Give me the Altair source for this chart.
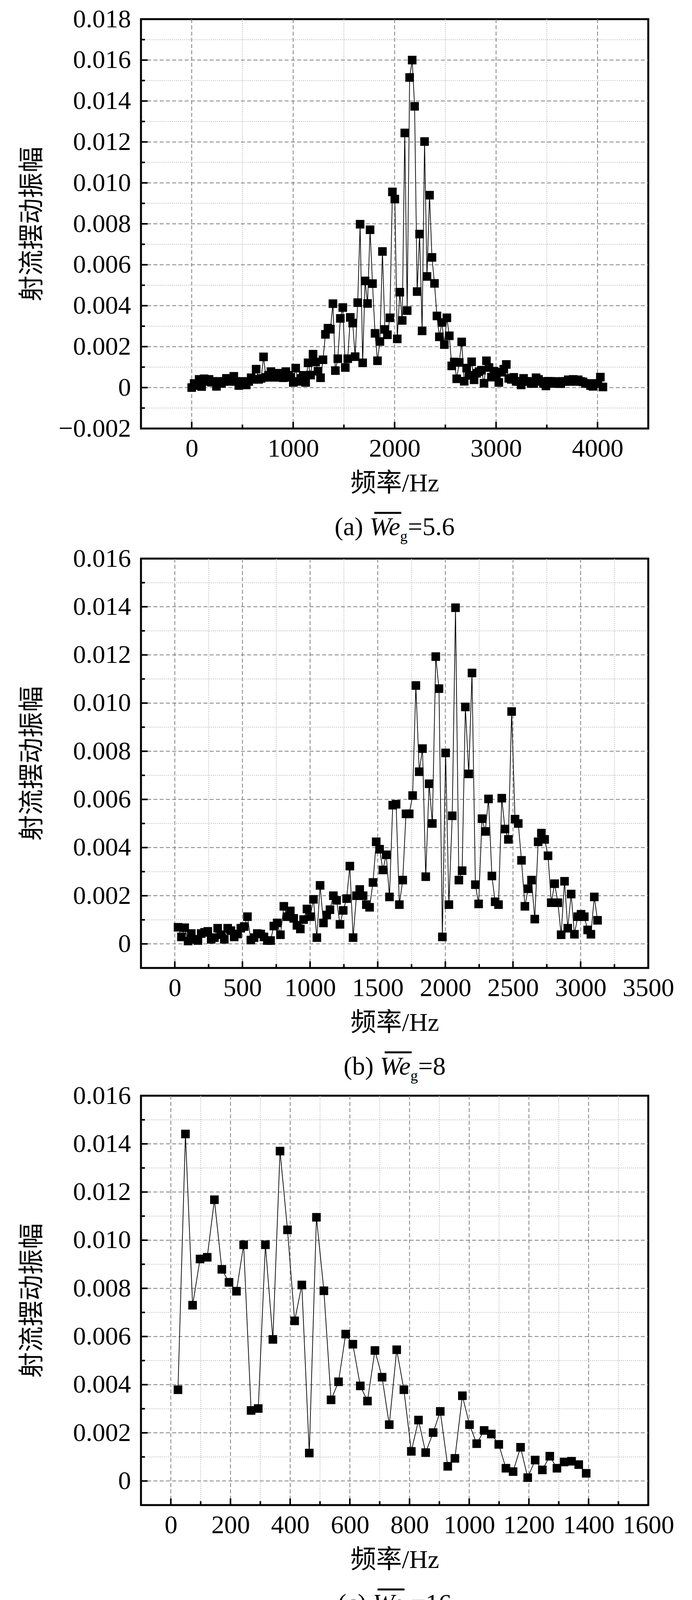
import altair as alt
import pandas as pd

FONT = "Liberation Serif, Noto Sans CJK SC, serif"
W, H = 1299, 1048
FS = 66
MAJOR_COL = "#7f7f7f"
MINOR_COL = "#b4b4b4"

# FFT frequency bins (Hz)
FREQ_BINS = [0, 24, 49, 73, 98, 122, 146, 171, 195, 220,
             244, 269, 293, 317, 342, 366, 391, 415, 439, 464,
             488, 513, 537, 562, 586, 610, 635, 659, 684, 708,
             732, 757, 781, 806, 830, 854, 879, 903, 928, 952,
             977, 1001, 1025, 1050, 1074, 1099, 1123, 1147, 1172, 1196,
             1221, 1245, 1270, 1294, 1318, 1343, 1367, 1392, 1416, 1440,
             1465, 1489, 1514, 1538, 1563, 1587, 1611, 1636, 1660, 1685,
             1709, 1733, 1758, 1782, 1807, 1831, 1855, 1880, 1904, 1929,
             1953, 1978, 2002, 2026, 2051, 2075, 2100, 2124, 2148, 2173,
             2197, 2222, 2246, 2271, 2295, 2319, 2344, 2368, 2393, 2417,
             2441, 2466, 2490, 2515, 2539, 2563, 2588, 2612, 2637, 2661,
             2686, 2710, 2734, 2759, 2783, 2808, 2832, 2856, 2881, 2905,
             2930, 2954, 2979, 3003, 3027, 3052, 3076, 3101, 3125, 3149,
             3174, 3198, 3223, 3247, 3271, 3296, 3320, 3345, 3369, 3394,
             3418, 3442, 3467, 3491, 3516, 3540, 3564, 3589, 3613, 3638,
             3662, 3687, 3711, 3735, 3760, 3784, 3809, 3833, 3857, 3882,
             3906, 3931, 3955, 3980, 4004, 4028, 4053]

# We_g = 5.6 (bins 0..166)
AMP_A = [0.0, 0.0002, 0.0001, 0.0004, 0.00005, 0.00043, 0.0003, 0.0004, 0.00026, 0.0003,
         0.00006, 0.0003, 0.0002, 0.0003, 0.00045, 0.0003, 0.0004, 0.00055, 0.0003, 0.0001,
         0.0003, 0.0002, 0.00013, 0.0003, 0.00048, 0.0004, 0.0009, 0.0004, 0.00045, 0.0015,
         0.0005, 0.0006, 0.00078, 0.0005, 0.00061, 0.0007, 0.0005, 0.00048, 0.00078, 0.0006,
         0.0005, 0.00025, 0.00095, 0.0003, 0.00045, 0.0006, 0.00025, 0.00121, 0.00061, 0.00163,
         0.00125, 0.0008, 0.00048, 0.00136, 0.0026, 0.0029, 0.00285, 0.0041, 0.00083, 0.00141,
         0.00338, 0.00391, 0.00098, 0.00141, 0.00343, 0.00315, 0.00151, 0.00415, 0.00798, 0.00121,
         0.00521, 0.00411, 0.00771, 0.00508, 0.00265, 0.00131, 0.00225, 0.00665, 0.00284, 0.00258,
         0.00341, 0.00956, 0.00921, 0.00238, 0.00466, 0.00328, 0.01244, 0.00376, 0.01515, 0.0160,
         0.01374, 0.00469, 0.0075, 0.00277, 0.01202, 0.00543, 0.0094, 0.00636, 0.00509, 0.0035,
         0.00248, 0.00318, 0.0021, 0.00341, 0.00253, 0.00106, 0.00125, 0.00043, 0.00123, 0.00223,
         0.00031, 0.00095, 0.0006, 0.00126, 0.00038, 0.0007, 0.00078, 0.00085, 0.00021, 0.00131,
         0.00098, 0.00051, 0.0008, 0.0006, 0.00025, 0.00075, 0.0009, 0.00113, 0.00045, 0.0004,
         0.0005, 0.0003, 0.0003, 0.00013, 0.00045, 0.0003, 0.0003, 0.0002, 0.0002, 0.00048,
         0.0004, 0.0003, 0.0002, 0.00008, 0.00031, 0.0003, 0.0002, 0.0003, 0.0002, 0.00019,
         0.0003, 0.0003, 0.00038, 0.0003, 0.0004, 0.0003, 0.00038, 0.0003, 0.00028, 0.0002,
         0.0002, 0.0001, 0.00006, 0.0002, 0.0002, 0.00051, 0.00003]

# We_g = 8 (bins 1..128)
AMP_B = [0.00069, 0.00029, 0.00067, 0.00012, 0.00043, 0.00019, 0.00014, 0.00043, 0.00048, 0.00052,
         0.00019, 0.00026, 0.00065, 0.00038, 0.00019, 0.00065, 0.00055, 0.00029, 0.00041, 0.00065,
         0.00072, 0.00113, 0.00016, 0.00026, 0.00043, 0.00041, 0.00029, 0.00014, 0.00014, 0.00074,
         0.00087, 0.00038, 0.00156, 0.00113, 0.00137, 0.00106, 0.00077, 0.00062, 0.00101, 0.00145,
         0.00113, 0.00185, 0.00026, 0.00243, 0.00087, 0.0012, 0.00142, 0.002, 0.00181, 0.00081,
         0.00139, 0.00188, 0.00323, 0.00026, 0.002, 0.00226, 0.002, 0.00163, 0.00152, 0.00255,
         0.00424, 0.00393, 0.00307, 0.0037, 0.00195, 0.00576, 0.0058, 0.00163, 0.00265, 0.0054,
         0.0054, 0.00616, 0.01073, 0.00715, 0.00811, 0.00279, 0.00665, 0.005, 0.01193, 0.0106,
         0.00029, 0.00793, 0.00163, 0.00532, 0.01396, 0.00265, 0.00304, 0.00984, 0.00706, 0.01125,
         0.00246, 0.00166, 0.0052, 0.00467, 0.00602, 0.00282, 0.00175, 0.00163, 0.00605, 0.00477,
         0.00434, 0.00965, 0.00518, 0.005, 0.00347, 0.00156, 0.00229, 0.00265, 0.00103, 0.00424,
         0.0046, 0.00434, 0.00366, 0.00171, 0.0025, 0.00171, 0.00038, 0.0026, 0.00065, 0.00207,
         0.0004, 0.00113, 0.00123, 0.00113, 0.00058, 0.0004, 0.00195, 0.00098]

# We_g = 16 (bins 1..57)
AMP_C = [0.00379, 0.01441, 0.0073, 0.00922, 0.00929, 0.01168, 0.00879, 0.00825, 0.00788, 0.00981,
         0.00293, 0.00301, 0.00981, 0.00588, 0.0137, 0.01043, 0.00665, 0.00814, 0.00116, 0.01095,
         0.0079, 0.00337, 0.00412, 0.0061, 0.00568, 0.00395, 0.00332, 0.00542, 0.00431, 0.00234,
         0.00545, 0.00379, 0.00123, 0.00253, 0.00118, 0.00201, 0.00289, 0.00061, 0.00094, 0.00354,
         0.00234, 0.00155, 0.0021, 0.00195, 0.00152, 0.00053, 0.00039, 0.0014, 0.00014, 0.00087,
         0.00046, 0.00103, 0.00053, 0.00079, 0.00082, 0.00068, 0.00032]

# We_g = 40 (bins 1..108)
AMP_D = [0.00155, 0.00042, 0.00134, 0.00052, 0.00213, 0.00087, 0.00087, 0.00275, 0.0016, 0.0001,
         0.00215, 0.00275, 0.00125, 0.00153, 0.00163, 0.00211, 0.00594, 0.00161, 0.00349, 0.0046,
         0.00266, 0.00259, 0.001, 0.0031, 0.00282, 0.00619, 0.004, 0.00218, 0.00831, 0.00645,
         0.00423, 0.00723, 0.00346, 0.00415, 0.00253, 0.00789, 0.00349, 0.00102, 0.00847, 0.00457,
         0.00527, 0.00402, 0.00626, 0.00415, 0.01013, 0.00534, 0.00304, 0.0123, 0.0046, 0.00479,
         0.00594, 0.00153, 0.00902, 0.0076, 0.00326, 0.00789, 0.00307, 0.00553, 0.00496, 0.00734,
         0.00121, 0.00393, 0.0069, 0.00683, 0.00525, 0.00492, 0.01051, 0.00517, 0.00381, 0.0014,
         0.00466, 0.00894, 0.00346, 0.00045, 0.00457, 0.00074, 0.00102, 0.00304, 0.00361, 0.00218,
         0.00132, 0.00155, 0.00295, 0.00275, 0.00008, 0.00074, 0.00185, 0.00121, 0.0014, 0.00077,
         0.00138, 0.00096, 0.00022, 0.00074, 0.00134, 0.00134, 0.00121, 0.00161, 0.00091, 0.00054,
         0.00134, 0.00109, 0.001, 0.00042, 0.00096, 0.0011, 0.00017, 0.00106]

FREQ_A = FREQ_BINS[0:167]
FREQ_B = FREQ_BINS[1:129]
FREQ_C = FREQ_BINS[1:58]
FREQ_D = FREQ_BINS[1:109]
FREQ_E_GREY = FREQ_BINS[0:129]
AMP_E_GREY = AMP_A[0:129]

# axis ticks (major = labelled, minor = unlabelled)
X_MAJ_1000 = [0, 1000, 2000, 3000, 4000]
X_MIN_1000 = [-500, 500, 1500, 2500, 3500, 4500]
X_MAJ_3500 = [0, 500, 1000, 1500, 2000, 2500, 3000, 3500]
X_MIN_3500 = [-250, 250, 750, 1250, 1750, 2250, 2750, 3250]
X_MAJ_1600 = [0, 200, 400, 600, 800, 1000, 1200, 1400, 1600]
X_MIN_1600 = [-100, 100, 300, 500, 700, 900, 1100, 1300, 1500]
X_MAJ_3000 = [0, 500, 1000, 1500, 2000, 2500, 3000]
X_MIN_3000 = [-250, 250, 750, 1250, 1750, 2250, 2750]
Y_MAJ_18 = [-0.002, 0.0, 0.002, 0.004, 0.006, 0.008, 0.010, 0.012, 0.014, 0.016, 0.018]
Y_MIN_18 = [-0.001, 0.001, 0.003, 0.005, 0.007, 0.009, 0.011, 0.013, 0.015, 0.017]
Y_MAJ_16 = [0.0, 0.002, 0.004, 0.006, 0.008, 0.010, 0.012, 0.014, 0.016]
Y_MIN_16 = [-0.001, 0.001, 0.003, 0.005, 0.007, 0.009, 0.011, 0.013, 0.015]
Y_MAJ_14 = [0.0, 0.002, 0.004, 0.006, 0.008, 0.010, 0.012, 0.014]
Y_MIN_14 = [-0.001, 0.001, 0.003, 0.005, 0.007, 0.009, 0.011, 0.013]

LEGEND_LABELS = ["5.6", "8", "16", "40"]
COLORS = ["#4a4a4a", "#e8403f", "#1d6fdc", "#36a664"]

X_TITLE = "频率/Hz"
Y_TITLE = "射流摆动振幅"

# Times metrics (1/1000 em)
REG_W = {"(": 333, ")": 333, "a": 444, "b": 500, "c": 444, "d": 500, "e": 444,
         " ": 250, "=": 564, ".": 250}
for _d in "0123456789":
    REG_W[_d] = 500
ITAL_W = {"W": 833, "e": 444, "k": 444}


def tw(s, table, fs):
    return sum(table[c] for c in s) / 1000.0 * fs


ONE = pd.DataFrame({"a": [0]})


def text_mark(txt, x, y, fs, italic=False, align="left"):
    kw = dict(text=txt, font=FONT, fontSize=fs, align=align, baseline="alphabetic", color="black")
    if italic:
        kw["fontStyle"] = "italic"
    return alt.Chart(ONE).mark_text(**kw).encode(x=alt.value(x), y=alt.value(y))


def hrule(x1, x2, y, width, color="black"):
    return alt.Chart(ONE).mark_rule(color=color, strokeWidth=width).encode(
        x=alt.value(x1), x2=alt.value(x2), y=alt.value(y))


def we_label(x0, base, value, sub_fs, sub_dy):
    """Overlined italic We, subscript g, then '=value'."""
    return [text_mark("We", x0, base, FS, italic=True),
            hrule(x0 + 12, x0 + 81, base - 57, 5),
            text_mark("g", x0 + 78, base + sub_dy, sub_fs),
            text_mark("=" + value, x0 + 98, base, FS)]


def caption_we(letter, value, base):
    pre = "(" + letter + ") "
    total = tw(pre, REG_W, FS) + 98 + tw("=" + value, REG_W, FS)
    x0 = W / 2 - total / 2
    return [text_mark(pre.strip(), x0, base, FS)] + we_label(x0 + tw(pre, REG_W, FS), base, value, 38, 15)


def caption_k(letter, base):
    pre = "(" + letter + ") "
    total = tw(pre, REG_W, FS) + tw("k", ITAL_W, FS) + tw("=0", REG_W, FS)
    x0 = W / 2 - total / 2
    x1 = x0 + tw(pre, REG_W, FS)
    x2 = x1 + tw("k", ITAL_W, FS)
    return [text_mark(pre.strip(), x0, base, FS),
            text_mark("k", x1, base, FS, italic=True),
            text_mark("=0", x2, base, FS)]


def panel(series, xdom, xmaj, xmin, ydom, ymaj, ymin, extra):
    xs = alt.Scale(domain=xdom, nice=False, zero=False)
    ys = alt.Scale(domain=ydom, nice=False, zero=False)
    xaxis = alt.Axis(
        values=xmaj, format="d", title=X_TITLE,
        titleX=W / 2, titleY=160, titleBaseline="alphabetic", titleAlign="center",
        titleFont=FONT, titleFontSize=FS, titleFontWeight="normal", titleColor="black",
        labelFont=FONT, labelFontSize=FS, labelColor="black", labelFlush=False, labelOverlap=False,
        labelLimit=0, titleLimit=0,
        labelPadding=19, ticks=False, domain=False, grid=False)
    yaxis = alt.Axis(
        values=ymaj, title=Y_TITLE,
        labelExpr="datum.value == 0 ? '0' : format(datum.value, '.3f')",
        titleX=-279, titleY=H / 2, titleAngle=270, titleBaseline="middle", titleAlign="center",
        titleFont=FONT, titleFontSize=FS, titleFontWeight="normal", titleColor="black",
        labelFont=FONT, labelFontSize=FS, labelColor="black", labelFlush=False, labelOverlap=False,
        labelLimit=0, titleLimit=0,
        labelPadding=26, ticks=False, domain=False, grid=False)

    def X(field):
        return alt.X(field, scale=xs, axis=xaxis)

    def Y(field):
        return alt.Y(field, scale=ys, axis=yaxis)

    layers = []
    # gridlines (inside the frame only): dashed major, dotted minor
    xin = lambda v: xdom[0] < v < xdom[1]
    yin = lambda v: ydom[0] < v < ydom[1]
    for vals, dash, col in (([v for v in xmin if xin(v)], [2, 3], MINOR_COL),
                            ([v for v in xmaj if xin(v)], [10, 6], MAJOR_COL)):
        layers.append(alt.Chart(pd.DataFrame({"t": vals})).mark_rule(
            color=col, strokeWidth=2, strokeDash=dash).encode(
            x=X("t:Q"), y=alt.value(0), y2=alt.value(H)))
    for vals, dash, col in (([v for v in ymin if yin(v)], [2, 3], MINOR_COL),
                            ([v for v in ymaj if yin(v)], [10, 6], MAJOR_COL)):
        layers.append(alt.Chart(pd.DataFrame({"t": vals})).mark_rule(
            color=col, strokeWidth=2, strokeDash=dash).encode(
            y=Y("t:Q"), x=alt.value(0), x2=alt.value(W)))

    for freq, amp, color, shape, size, sw in series:
        df = pd.DataFrame({"f": freq, "v": amp})
        layers.append(alt.Chart(df).mark_line(color=color, strokeWidth=sw).encode(
            x=X("f:Q"), y=Y("v:Q")))
        layers.append(alt.Chart(df).mark_point(shape=shape, filled=True, size=size, color=color,
                                               opacity=1, strokeWidth=0).encode(
            x=X("f:Q"), y=Y("v:Q")))

    # inward ticks on the left and bottom edges
    for vals, ln in ((ymaj, 17), (ymin, 10)):
        layers.append(alt.Chart(pd.DataFrame({"t": vals})).mark_rule(color="black", strokeWidth=4).encode(
            y=Y("t:Q"), x=alt.value(0), x2=alt.value(ln)))
    for vals, ln in ((xmaj, 17), (xmin, 10)):
        layers.append(alt.Chart(pd.DataFrame({"t": vals})).mark_rule(color="black", strokeWidth=4).encode(
            x=X("t:Q"), y=alt.value(H), y2=alt.value(H - ln)))

    layers += extra
    return alt.layer(*layers).properties(width=W, height=H)


BLACK = "black"
pa = panel([(FREQ_A, AMP_A, BLACK, "square", 484, 1.8)], [-500, 4500], X_MAJ_1000, X_MIN_1000,
           [-0.002, 0.018], Y_MAJ_18, Y_MIN_18, caption_we("a", "5.6", H + 273))
pb = panel([(FREQ_B, AMP_B, BLACK, "square", 484, 1.8)], [-250, 3500], X_MAJ_3500, X_MIN_3500,
           [-0.001, 0.016], Y_MAJ_16, Y_MIN_16, caption_we("b", "8", H + 273))
pc = panel([(FREQ_C, AMP_C, BLACK, "square", 484, 1.8)], [-100, 1600], X_MAJ_1600, X_MIN_1600,
           [-0.001, 0.016], Y_MAJ_16, Y_MIN_16, caption_we("c", "16", H + 273))
pdd = panel([(FREQ_D, AMP_D, BLACK, "square", 484, 1.8)], [-250, 3000], X_MAJ_3000, X_MIN_3000,
            [-0.001, 0.014], Y_MAJ_14, Y_MIN_14, caption_we("d", "40", H + 273))

# legend for panel (e)
SHAPES = ["square", "circle", "triangle-up", "triangle-down"]
LSIZES = [400, 529, 900, 900]
legend_layers = [alt.Chart(ONE).mark_rect(color="white").encode(
    x=alt.value(927), x2=alt.value(W - 3), y=alt.value(3), y2=alt.value(395))]
for k in range(4):
    ly = 67 + 93 * k
    legend_layers.append(hrule(931, 1053, ly, 3, COLORS[k]))
    legend_layers.append(alt.Chart(ONE).mark_point(shape=SHAPES[k], filled=True, size=LSIZES[k],
                                                   color=COLORS[k], opacity=1, strokeWidth=0).encode(
        x=alt.value(992), y=alt.value(ly)))
    legend_layers += we_label(1057, ly + 22, LEGEND_LABELS[k], 34, 17)

pe = panel([(FREQ_E_GREY, AMP_E_GREY, COLORS[0], "square", 400, 3),
            (FREQ_B, AMP_B, COLORS[1], "circle", 529, 3),
            (FREQ_C, AMP_C, COLORS[2], "triangle-up", 800, 3),
            (FREQ_D, AMP_D, COLORS[3], "triangle-down", 800, 3)],
           [-250, 3500], X_MAJ_3500, X_MIN_3500,
           [-0.002, 0.018], Y_MAJ_18, Y_MIN_18,
           legend_layers + caption_k("e", H + 245))

inner = alt.vconcat(pb, pc, pdd, pe, spacing=327, bounds="flush")
chart = alt.vconcat(pa, inner, spacing=333, bounds="flush").properties(
    padding={"left": 38, "top": 5, "right": 10, "bottom": 0}
).configure_view(stroke="black", strokeWidth=5)

chart.save("out.html", embed_options={"renderer": "svg", "actions": False})
